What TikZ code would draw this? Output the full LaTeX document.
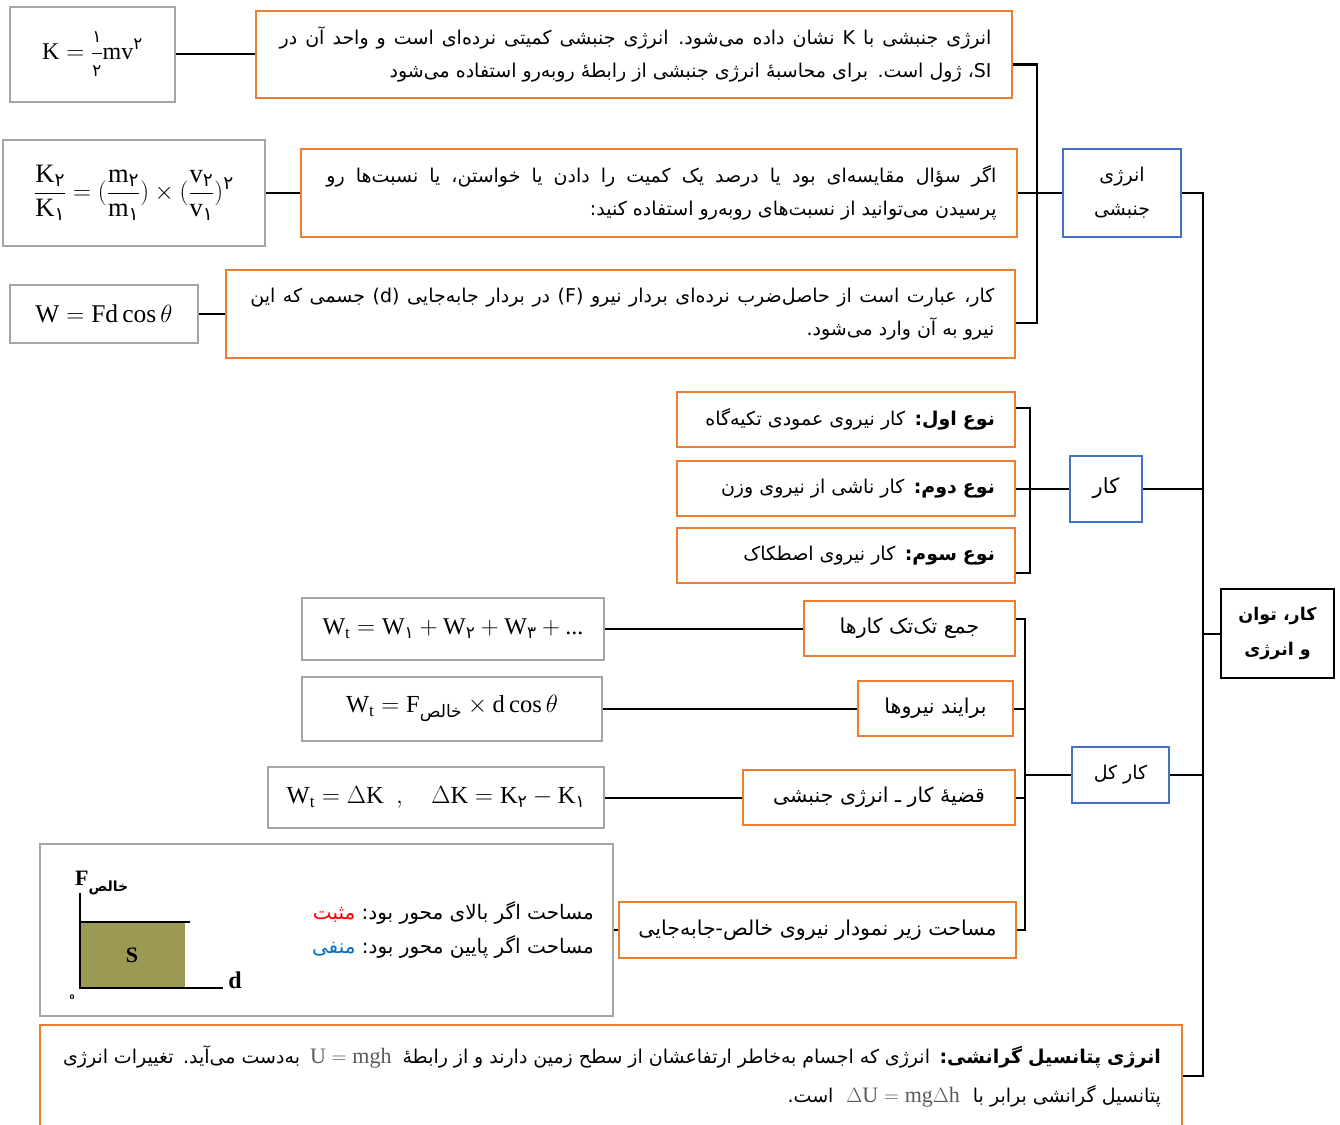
\documentclass[tikz,border=0pt]{standalone}
\usepackage{amsmath}
\usepackage{fontspec}
\setmainfont{Liberation Serif}
\newfontfamily\fafont[Script=Arabic]{DejaVu Sans}
\usetikzlibrary{positioning}
\TeXXeTstate=1
\definecolor{orng}{HTML}{ED7D31}
\definecolor{blu}{HTML}{4472C4}
\definecolor{gry}{HTML}{A5A5A5}
\definecolor{olv}{HTML}{9A9A55}
\definecolor{negblue}{HTML}{0070C0}
\definecolor{eqgray}{HTML}{595959}
\newcommand{\fnum}[1]{\text{\fafont #1}}
\newcommand{\fdig}[1]{\text{\fafont\fontsize{17}{17}\selectfont #1}}
\newcommand{\rline}[2][0pt]{\hbox to\hsize{\hfil
  \spaceskip=\dimexpr\fontdimen2\font+#1\relax\beginR #2\endR}}
\newcommand{\mline}[2][0pt]{\hbox to\hsize{\hfil
  \spaceskip=\dimexpr\fontdimen2\font+#1\relax #2}}
\newcommand{\eqbox}[1]{\textcolor{eqgray}{\fontsize{22}{22}\selectfont$#1$}}
\tikzset{
  obox/.style={draw=orng,line width=2pt,inner sep=0pt,font=\fafont\fontsize{19}{33}\selectfont},
  cbox/.style={draw=orng,line width=2pt,inner sep=0pt,font=\fafont\fontsize{20.5}{24}\selectfont},
  gbox/.style={draw=gry,line width=2pt,inner sep=0pt,font=\fontsize{24.5}{28}\selectfont},
  bbox/.style={draw=blu,line width=2pt,inner sep=0pt,align=center,font=\fafont\fontsize{19}{34}\selectfont},
  kbox/.style={draw,line width=2pt,inner sep=0pt,align=center,font=\fafont\bfseries\fontsize{17.5}{35}\selectfont},
  link/.style={line width=2pt}
}
\begin{document}
\begin{tikzpicture}[x=1pt,y=-1pt]
\useasboundingbox (0,0) rectangle (1340,1124);
\node [obox,minimum width=756pt,minimum height=87pt,text width=715pt] (kdef) at (634,54.5)
{\rline[2pt]{انرژی جنبشی با \hbox{K} نشان داده می‌شود. انرژی جنبشی کمیتی نرده‌ای است و واحد آن در}
 \rline{\hbox{SI}، ژول است. برای محاسبهٔ انرژی جنبشی از رابطهٔ روبه‌رو استفاده می‌شود}};
\node [gbox,minimum width=165pt,minimum height=95pt,left=79pt of kdef,
  font=\fontsize{24}{28}\selectfont] (kform)
{$\mathrm{K}=\displaystyle\frac{\fdig{۱}}{\fdig{۲}}\mathrm{mv}^{\fnum{۲}}$};
\node [obox,minimum width=716pt,minimum height=88pt,text width=675pt] (kratio) at (659,193)
{\rline[5pt]{اگر سؤال مقایسه‌ای بود یا درصد یک کمیت را دادن یا خواستن، یا نسبت‌ها رو}
 \rline{پرسیدن می‌توانید از نسبت‌های روبه‌رو استفاده کنید:}};
\node [gbox,minimum width=262pt,minimum height=106pt,left=34pt of kratio,
  font=\fontsize{26.5}{30}\selectfont] (rform)
{$\displaystyle\frac{\mathrm{K}_{\fnum{۲}}}{\mathrm{K}_{\fnum{۱}}}
 =(\frac{\mathrm{m}_{\fnum{۲}}}{\mathrm{m}_{\fnum{۱}}})\times
 (\frac{\mathrm{v}_{\fnum{۲}}}{\mathrm{v}_{\fnum{۱}}})^{\fnum{۲}}$};
\node [obox,minimum width=789pt,minimum height=88pt,text width=748pt] (wdef) at (620.5,314)
{\rline[1.5pt]{کار، عبارت است از حاصل‌ضرب نرده‌ای بردار نیرو \hbox{(F)} در بردار جابه‌جایی \hbox{(d)} جسمی که این}
 \rline{نیرو به آن وارد می‌شود.}};
\node [gbox,minimum width=188pt,minimum height=58pt,left=26pt of wdef,
  font=\fontsize{25.5}{28}\selectfont] (wform)
{$\mathrm{W}=\mathrm{Fd}\cos\theta$};
\node [bbox,minimum width=118pt,minimum height=88pt] (kin) at (1122,193) {انرژی\\جنبشی};

\node [obox,minimum width=338pt,minimum height=55pt,text width=298pt] (typeA) at (846,419.5)
{\rline{\textbf{نوع اول:} کار نیروی عمودی تکیه‌گاه}};
\node [obox,minimum width=338pt,minimum height=55pt,text width=298pt,below=12pt of typeA] (typeB)
{\rline{\textbf{نوع دوم:} کار ناشی از نیروی وزن}};
\node [obox,minimum width=338pt,minimum height=55pt,text width=298pt,below=10pt of typeB] (typeC)
{\rline{\textbf{نوع سوم:} کار نیروی اصطکاک}};
\node [bbox,minimum width=72pt,minimum height=66pt,font=\fafont\fontsize{21}{24}\selectfont] (work)
  at (1106,488.5) {کار};

\node [kbox,minimum width=113pt,minimum height=89pt] (root) at (1277.5,633.5)
{\beginR کار، توان\endR\\\beginR و انرژی\endR};

\node [cbox,minimum width=211pt,minimum height=55pt] (sumw) at (909.5,628.5)
{\beginR جمع تک‌تک کارها\endR};
\node [gbox,minimum width=302pt,minimum height=62pt,left=198pt of sumw,font=\fontsize{24}{28}\selectfont] (sumeq)
{$\mathrm{W}_{\mathrm{t}}=\mathrm{W}_{\fnum{۱}}+\mathrm{W}_{\fnum{۲}}+\mathrm{W}_{\fnum{۳}}+\text{...}$};
\node [cbox,minimum width=155pt,minimum height=55pt] (netf) at (935.5,708.5)
{\beginR برایند نیروها\endR};
\node [gbox,minimum width=300pt,minimum height=64pt,left=254pt of netf] (neteq)
{$\mathrm{W}_{\mathrm{t}}=\mathrm{F}_{\text{\fafont خالص}}\times\mathrm{d}\cos\theta$};
\node [cbox,minimum width=272pt,minimum height=55pt] (wkthm) at (879,797.5)
{\beginR قضیهٔ کار ـ انرژی جنبشی\endR};
\node [gbox,minimum width=336pt,minimum height=61pt,left=137pt of wkthm] (thmeq)
{$\mathrm{W}_{\mathrm{t}}=\Delta\mathrm{K}\ \ ,\quad\Delta\mathrm{K}=\mathrm{K}_{\fnum{۲}}-\mathrm{K}_{\fnum{۱}}$};
\node [cbox,minimum width=397pt,minimum height=56pt] (area) at (817.5,930)
{\beginR مساحت زیر نمودار نیروی خالص-جابه‌جایی\endR};
\node [gbox,minimum width=573pt,minimum height=172pt,left=4pt of area] (graph) {};
\node [bbox,minimum width=97pt,minimum height=56pt] (total) at (1120.5,775)
{\beginR کار کل\endR};

\fill[olv] (80,922) rectangle (185,988);
\draw[link] (80,893) -- (80,988) -- (223,988);
\draw[link] (80,922) -- (190,922);
\node [font=\bfseries\fontsize{22}{22}\selectfont] (slab) at (132,955) {S};
\node [font=\bfseries\fontsize{24}{24}\selectfont] (dlab) at (235,980) {d};
\node [font=\bfseries\fontsize{10}{10}\selectfont] (olab) at (72,997) {o};
\node [anchor=base west,inner sep=0pt] (flab) at (75,885)
{\fontsize{22}{22}\selectfont\textbf{F}\raisebox{-6pt}{\fafont\bfseries\fontsize{14}{14}\selectfont خالص}};
\node [anchor=east,align=right,inner sep=0pt,font=\fafont\fontsize{20}{34}\selectfont] (signs) at (594,930)
{\textcolor{red}{مثبت}\ \beginR مساحت اگر بالای محور بود:\endR\\
 \textcolor{negblue}{منفی}\ \beginR مساحت اگر پایین محور بود:\endR};

\node [obox,minimum width=1142pt,minimum height=102pt,text width=1100pt,
  font=\fafont\fontsize{19}{39}\selectfont] (pot) at (611,1076)
{\mline[-0.15pt]{\beginR به‌دست می‌آید. تغییرات انرژی\endR\kern10pt\eqbox{\mathrm{U}=\mathrm{mgh}}\kern11pt
  \beginR\textbf{انرژی پتانسیل گرانشی:} انرژی که اجسام به‌خاطر ارتفاعشان از سطح زمین دارند و از رابطهٔ\endR}
 \mline{\beginR است.\endR\kern13pt\eqbox{\Delta\mathrm{U}=\mathrm{mg}\Delta\mathrm{h}}\kern13pt
  \beginR پتانسیل گرانشی برابر با\endR}};

\coordinate (kbus) at (1037,200);
\coordinate (tbus) at (1030,489);
\coordinate (cbus) at (1025,775);
\coordinate (spine) at (1203,634);

\draw[link] (kform) -- (kdef);
\draw[link] (rform) -- (kratio);
\draw[link] (wform) -- (wdef);
\draw[link] ([yshift=-10pt]kdef.east) -| (kbus) |- ([yshift=-9pt]wdef.east);
\draw[link] (kratio.east) -- (kin.west);
\draw[link] ([yshift=11.5pt]typeA.east) -| (tbus) |- ([yshift=-17.5pt]typeC.east);
\draw[link] (typeB.east) -- (work.west);
\draw[link] (sumeq) -- (sumw);
\draw[link] (neteq) -- (netf);
\draw[link] (thmeq) -- (wkthm);
\draw[link] (graph) -- (area);
\draw[link] ([yshift=10pt]sumw.east) -| (cbus) |- (area.east);
\draw[link] (netf.east) -- (netf.east -| cbus);
\draw[link] (wkthm.east) -- (wkthm.east -| cbus);
\draw[link] (cbus) -- (total.west);
\draw[link] (kin.east) -| (spine) |- (pot.east);
\draw[link] (work.east) -- (work.east -| spine);
\draw[link] (total.east) -- (total.east -| spine);
\draw[link] (spine |- root.west) -- (root.west);
\end{tikzpicture}
\end{document}
